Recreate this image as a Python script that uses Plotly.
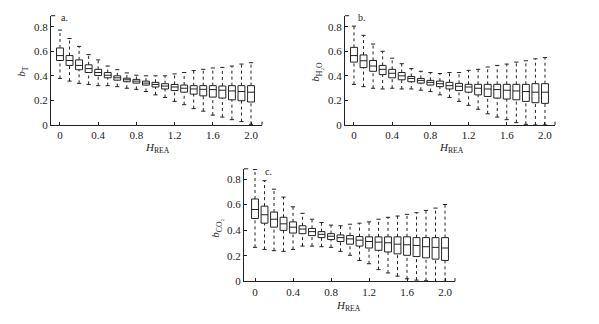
import plotly.graph_objects as go

x_pos = [round(0.1 * i, 1) for i in range(21)]

# Panel a: b_T
a_lo = [0.379, 0.357, 0.339, 0.330, 0.320, 0.320, 0.312, 0.299, 0.290, 0.272, 0.245, 0.224, 0.192, 0.165, 0.133, 0.112, 0.080, 0.064, 0.043, 0.027, 0.005]
a_q1 = [0.525, 0.485, 0.450, 0.427, 0.403, 0.384, 0.365, 0.352, 0.341, 0.325, 0.309, 0.293, 0.280, 0.267, 0.251, 0.237, 0.227, 0.219, 0.205, 0.197, 0.187]
a_med = [0.565, 0.525, 0.485, 0.459, 0.427, 0.405, 0.384, 0.368, 0.357, 0.341, 0.330, 0.317, 0.309, 0.299, 0.293, 0.290, 0.288, 0.283, 0.277, 0.272, 0.267]
a_q3 = [0.627, 0.565, 0.530, 0.490, 0.453, 0.427, 0.400, 0.381, 0.371, 0.357, 0.347, 0.336, 0.330, 0.325, 0.320, 0.320, 0.320, 0.317, 0.320, 0.320, 0.320]
a_hi = [0.773, 0.704, 0.640, 0.573, 0.530, 0.480, 0.450, 0.424, 0.405, 0.400, 0.400, 0.400, 0.416, 0.427, 0.443, 0.453, 0.464, 0.469, 0.480, 0.496, 0.507]

# Panel b: b_H2O
b_lo = [0.330, 0.312, 0.299, 0.293, 0.299, 0.293, 0.293, 0.283, 0.272, 0.245, 0.224, 0.192, 0.160, 0.128, 0.091, 0.064, 0.043, 0.019, 0.005, 0.0, 0.0]
b_q1 = [0.512, 0.467, 0.437, 0.410, 0.384, 0.368, 0.352, 0.341, 0.325, 0.312, 0.293, 0.280, 0.267, 0.245, 0.232, 0.219, 0.211, 0.205, 0.192, 0.181, 0.176]
b_med = [0.565, 0.523, 0.480, 0.453, 0.421, 0.400, 0.379, 0.363, 0.347, 0.336, 0.320, 0.315, 0.309, 0.299, 0.293, 0.288, 0.283, 0.277, 0.272, 0.267, 0.267]
b_q3 = [0.632, 0.570, 0.525, 0.485, 0.453, 0.427, 0.395, 0.379, 0.363, 0.357, 0.347, 0.339, 0.331, 0.331, 0.331, 0.331, 0.331, 0.331, 0.331, 0.336, 0.336]
b_hi = [0.805, 0.730, 0.659, 0.600, 0.544, 0.499, 0.459, 0.437, 0.427, 0.419, 0.427, 0.427, 0.445, 0.453, 0.472, 0.485, 0.496, 0.512, 0.523, 0.539, 0.549]

# Panel c: b_CO2
c_lo = [0.266, 0.250, 0.240, 0.235, 0.250, 0.276, 0.276, 0.271, 0.266, 0.235, 0.204, 0.164, 0.138, 0.092, 0.066, 0.041, 0.020, 0.010, 0.005, 0.0, 0.0]
c_q1 = [0.491, 0.455, 0.424, 0.399, 0.378, 0.373, 0.358, 0.342, 0.327, 0.312, 0.291, 0.276, 0.261, 0.243, 0.230, 0.215, 0.204, 0.194, 0.184, 0.174, 0.164]
c_med = [0.562, 0.521, 0.486, 0.450, 0.424, 0.409, 0.389, 0.368, 0.353, 0.342, 0.332, 0.322, 0.312, 0.307, 0.302, 0.291, 0.286, 0.281, 0.271, 0.266, 0.261]
c_q3 = [0.644, 0.588, 0.542, 0.501, 0.465, 0.435, 0.414, 0.389, 0.373, 0.363, 0.358, 0.350, 0.348, 0.348, 0.348, 0.348, 0.348, 0.342, 0.342, 0.342, 0.342]
c_hi = [0.874, 0.787, 0.721, 0.659, 0.583, 0.532, 0.486, 0.460, 0.440, 0.435, 0.447, 0.455, 0.465, 0.486, 0.501, 0.511, 0.524, 0.537, 0.555, 0.573, 0.601]

x_tickvals = [0, 0.4, 0.8, 1.2, 1.6, 2.0]
x_ticktext = ["0", "0.4", "0.8", "1.2", "1.6", "2.0"]
y_tickvals = [0, 0.2, 0.4, 0.6, 0.8]
y_ticktext = ["0", "0.2", "0.4", "0.6", "0.8"]

W, H = 599, 324
FONT = "Liberation Serif, Times New Roman, serif"
INK = "#222222"

fig = go.Figure()

panels = [
    ("x", "y", a_lo, a_q1, a_med, a_q3, a_hi),
    ("x2", "y2", b_lo, b_q1, b_med, b_q3, b_hi),
    ("x3", "y3", c_lo, c_q1, c_med, c_q3, c_hi),
]

for xa, ya, lo, q1, med, q3, hi in panels:
    wx, wy = [], []
    for xv, l, a, b, h in zip(x_pos, lo, q1, q3, hi):
        wx += [xv, xv, None, xv, xv, None]
        wy += [l, a, None, b, h, None]
    fig.add_trace(go.Scatter(x=wx, y=wy, mode="lines", xaxis=xa, yaxis=ya,
                             line=dict(color=INK, width=1, dash="dot"),
                             hoverinfo="skip", showlegend=False))
    fig.add_trace(go.Scatter(x=x_pos + x_pos, y=lo + hi, mode="markers", xaxis=xa, yaxis=ya,
                             marker=dict(symbol="line-ew", size=3, line=dict(color=INK, width=1)),
                             hoverinfo="skip", showlegend=False))
    fig.add_trace(go.Box(x=x_pos, q1=q1, median=med, q3=q3, lowerfence=q1, upperfence=q3,
                         xaxis=xa, yaxis=ya, width=0.072, whiskerwidth=0,
                         line=dict(color=INK, width=1), fillcolor="rgba(255,255,255,0)",
                         boxpoints=False, showlegend=False))

def px_dom(a, b, total):
    return [a / total, b / total]

def ydom(top_px, bottom_px):
    return [1 - bottom_px / H, 1 - top_px / H]

xcommon = dict(showline=True, linecolor=INK, linewidth=1, ticks="inside", ticklen=3,
               tickcolor=INK, tickvals=x_tickvals, ticktext=x_ticktext, showgrid=False,
               zeroline=False, tickfont=dict(family=FONT, size=11, color=INK))
ycommon = dict(showline=True, linecolor=INK, linewidth=1, ticks="inside", ticklen=3,
               tickcolor=INK, tickvals=y_tickvals, ticktext=y_ticktext, showgrid=False,
               zeroline=False, tickfont=dict(family=FONT, size=11, color=INK))

fig.update_layout(
    width=W, height=H, margin=dict(l=0, r=0, t=0, b=0),
    paper_bgcolor="white", plot_bgcolor="white", showlegend=False,
    xaxis=dict(domain=px_dom(51, 262, W), range=[-0.094, 2.115], anchor="y", **xcommon),
    yaxis=dict(domain=ydom(16, 127.3), range=[0, 0.89], anchor="x", **ycommon),
    xaxis2=dict(domain=px_dom(345, 555, W), range=[-0.094, 2.105], anchor="y2", **xcommon),
    yaxis2=dict(domain=ydom(16, 127.3), range=[0, 0.89], anchor="x2", **ycommon),
    xaxis3=dict(domain=px_dom(244, 455, W), range=[-0.116, 2.105], anchor="y3", **xcommon),
    yaxis3=dict(domain=ydom(172, 286.7), range=[0, 0.88], anchor="x3", **ycommon),
)

# end ticks at axis corners
for xa, ya in [("x", "y"), ("x2", "y2"), ("x3", "y3")]:
    fig.add_shape(type="line", xref=xa + " domain", yref=ya + " domain", x0=0, x1=0.02, y0=1, y1=1,
                  line=dict(color=INK, width=1))
    fig.add_shape(type="line", xref=xa + " domain", yref=ya + " domain", x0=1, x1=1, y0=0, y1=0.03,
                  line=dict(color=INK, width=1))

def ann(text, xpx, ypx, angle=0, size=11):
    fig.add_annotation(text=text, x=xpx / W, y=1 - ypx / H, xref="paper", yref="paper",
                       showarrow=False, textangle=angle, xanchor="center", yanchor="middle",
                       font=dict(family=FONT, size=size, color=INK))

ann("a.", 64, 18, size=10)
ann("b.", 362, 18, size=10)
ann("c.", 268, 175, size=10)
ann("<i>b</i><sub>T</sub>", 22, 73, angle=-90)
ann("<i>b</i><sub>H₂O</sub>", 316, 73, angle=-90)
ann("<i>b</i><sub>CO₂</sub>", 216, 233, angle=-90)
ann("<i>H</i><sub>REA</sub>", 157, 151)
ann("<i>H</i><sub>REA</sub>", 451, 151)
ann("<i>H</i><sub>REA</sub>", 348, 312)

fig.write_html("out.html", config={"displayModeBar": False},
               post_script="document.body.style.margin='0px';document.body.style.overflow='hidden';")
